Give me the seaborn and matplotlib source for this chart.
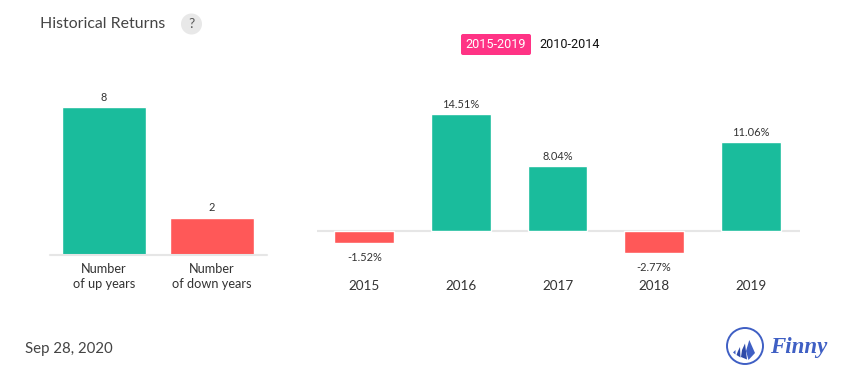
import numpy as np
import pandas as pd
import matplotlib
matplotlib.use('Agg')
import matplotlib.pyplot as plt
from matplotlib.patches import Circle, FancyBboxPatch, Polygon
import seaborn as sns

up_down_labels = ['Number\nof up years', 'Number\nof down years']
up_down_values = [8, 2]
up_down_kinds = ['up', 'down']
years = ['2015', '2016', '2017', '2018', '2019']
returns = [-1.52, 14.51, 8.04, -2.77, 11.06]
return_kinds = ['down', 'up', 'up', 'down', 'up']
return_labels = ['-1.52%', '14.51%', '8.04%', '-2.77%', '11.06%']

GREEN = '#1abc9c'
RED = '#ff5858'
W, H = 855, 382

sns.set_theme(style='white')
plt.rcParams['font.family'] = ['Lato', 'DejaVu Sans']

fig = plt.figure(figsize=(W / 100, H / 100), dpi=100)


def px_axes(x0, y0, x1, y1):
    return fig.add_axes([x0 / W, 1 - y1 / H, (x1 - x0) / W, (y1 - y0) / H])


def fx(x):
    return x / W


def fy(y):
    return 1 - y / H


def bars(ax, labels, values, kinds, width):
    df = pd.DataFrame({'label': labels, 'value': values, 'kind': kinds})
    sns.barplot(data=df, x='label', y='value', hue='kind', dodge=False, legend=False,
                palette={'up': GREEN, 'down': RED}, ax=ax, saturation=1)
    ax.set_xlabel('')
    ax.set_ylabel('')
    ax.set_yticks([])
    sns.despine(ax=ax, left=True, top=True, right=True, bottom=True)
    for p in ax.patches:
        c = p.get_x() + p.get_width() / 2
        p.set_width(width)
        p.set_x(c - width / 2)


# left panel: baseline at y=255
ax1 = px_axes(50, 90, 267, 255)
bars(ax1, up_down_labels, up_down_values, up_down_kinds, 0.78)
ax1.set_ylim(0, 165 / 18.45)
ax1.set_xlim(-0.5, 1.509)
ax1.axhline(0, color='#e6e6e6', lw=1.5, zorder=5, clip_on=False)
ax1.tick_params(axis='x', length=0, pad=5.5, labelsize=9.2, labelcolor='#333333')
for lab in ax1.get_xticklabels():
    lab.set_linespacing(1.38)
for i, v in enumerate(up_down_values):
    ax1.annotate(str(v), (i, v), xytext=(0, 3.5), textcoords='offset points', ha='center',
                 va='bottom', fontsize=7.9, color='#333333')

# right panel: baseline at y=231
ax2 = px_axes(317, 90, 800, 290)
bars(ax2, years, returns, return_kinds, 0.62)
ax2.set_ylim(-59 / 8.03, 141 / 8.03)
ax2.set_xlim(-0.49, 4.51)
ax2.axhline(0, color='#e6e6e6', lw=1.5, zorder=0)
ax2.tick_params(axis='x', length=0, pad=-7.5, labelsize=9.7, labelcolor='#333333')
for i, (v, lab) in enumerate(zip(returns, return_labels)):
    off = 3 if v > 0 else -6.5
    ax2.annotate(lab, (i, v), xytext=(0, off), textcoords='offset points', ha='center',
                 va='bottom' if v > 0 else 'top', fontsize=7.9, color='#333333')

# header
fig.text(fx(40), fy(23.5), 'Historical Returns', fontsize=11.4, color='#444444', va='center')
q = px_axes(180, 13, 203, 35)
q.set_xlim(180, 203)
q.set_ylim(35, 13)
q.axis('off')
q.add_patch(Circle((191.5, 24), 10.5, color='#e8e8e8', lw=0))
q.text(191.5, 24, '?', ha='center', va='center', fontsize=10, color='#555555')

# period toggle
t = px_axes(455, 30, 610, 60)
t.set_xlim(455, 610)
t.set_ylim(60, 30)
t.axis('off')
t.add_patch(FancyBboxPatch((461, 34), 70, 21, boxstyle='round,pad=0,rounding_size=2',
                           fc='#ff3385', ec='none'))
t.text(496, 44.7, '2015-2019', ha='center', va='center', fontsize=9.1, color='white',
       family='Roboto')
t.text(570, 44.7, '2010-2014', ha='center', va='center', fontsize=9.1, color='#111111',
       family='Roboto')

# date
fig.text(fx(25), fy(348.5), 'Sep 28, 2020', fontsize=10.85, color='#444444', va='center')

# logo
BLUE = '#3f5fc4'
l = px_axes(720, 320, 840, 370)
l.set_xlim(720, 840)
l.set_ylim(370, 320)
l.axis('off')
l.add_patch(Circle((745, 346), 18, fc='none', ec=BLUE, lw=1.4))
l.add_patch(Polygon([(749.3, 340), (755, 353), (748.5, 360), (746, 351)], fc=BLUE, ec='none'))
l.add_patch(Polygon([(745, 343.5), (747, 359.5), (741, 357), (742, 350)], fc='#2f4aa8', ec='none'))
l.add_patch(Polygon([(740, 347), (740.5, 357.5), (736.5, 355), (738, 351)], fc='#2f4aa8', ec='none'))
l.add_patch(Polygon([(735.5, 350), (735.5, 354.5), (733, 352.5)], fc=BLUE, ec='none'))
l.text(799, 348, 'Finny', ha='center', va='center', fontsize=16.5, color=BLUE,
       family='Liberation Serif', style='italic', weight='bold')

fig.savefig('out.png', dpi=100)
